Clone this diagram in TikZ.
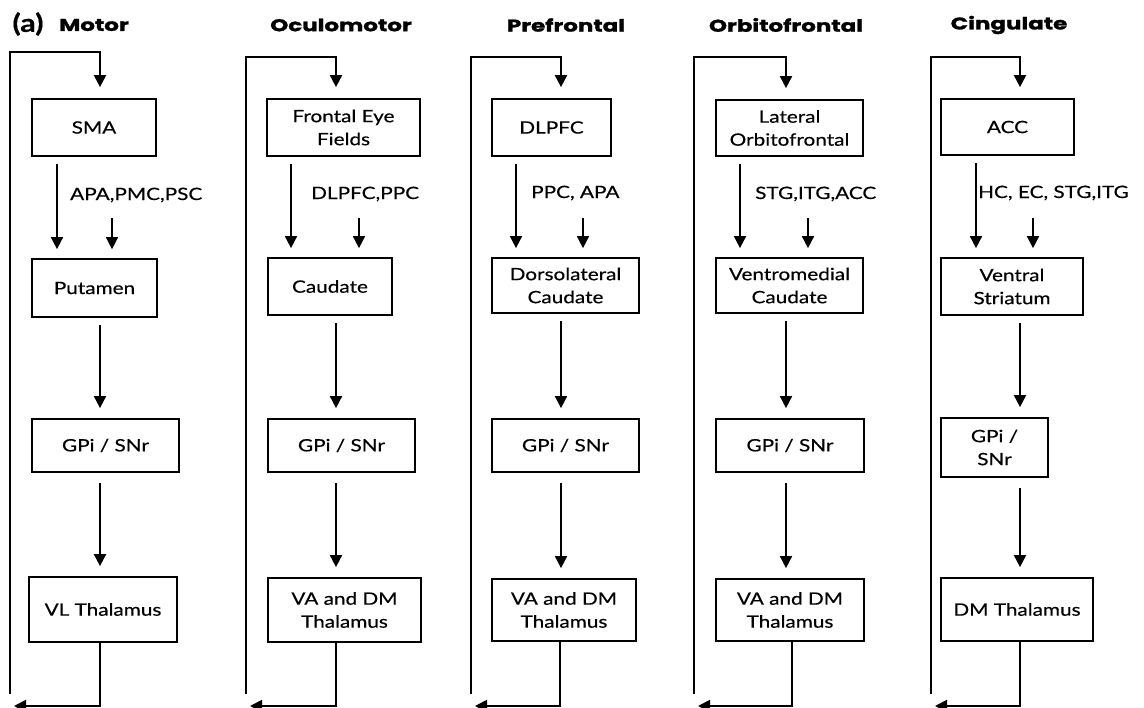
\documentclass[tikz,border=0pt]{standalone}
\usepackage{fontspec}
\setmainfont{Lato}[FakeStretch=1.22, FakeBold=0.4]
\newfontfamily\hdrfont{Poppins}[FakeStretch=1.35, BoldFeatures={FakeBold=1.5}]
\usetikzlibrary{arrows.meta}
\newcommand\bx[6]{\node[box, minimum width={(#4-#2)*1pt}, minimum height={(#5-#3)*1pt}] (#1) at ({(#2+#4)/2},{(#3+#5)/2}) {#6};}
\begin{document}
\begin{tikzpicture}[x=1pt,y=-1pt,
  box/.style={draw, line width=1.7pt, inner sep=0pt, align=center, font=\fontsize{17}{23}\selectfont},
  lbl/.style={anchor=west, inner sep=0pt, font=\fontsize{17}{20}\selectfont},
  hdr/.style={font=\hdrfont\bfseries\fontsize{17}{20}\selectfont, inner sep=0pt},
  tip/.style={-{Triangle[width=12pt,length=12pt]}},
  arr/.style={line width=1.7pt, tip},
  ln/.style={line width=1.9pt}]
\useasboundingbox (0,0) rectangle (1144,708);

% headers
\node[inner sep=0pt, font=\bfseries\fontsize{25}{27}\selectfont] (lab) at (28,24) {(a)};
\node[hdr] (h1) at (94,25) {Motor};
\node[hdr] (h2) at (341,25) {Oculomotor};
\node[hdr] (h3) at (566,25) {Prefrontal};
\node[hdr] (h4) at (786,25) {Orbitofrontal};
\node[hdr] (h5) at (1009,25) {Cingulate};

% column 1
\bx{A1}{32}{99}{156}{156}{SMA}
\bx{B1}{32}{259}{157}{317}{Putamen}
\bx{C1}{32}{419}{179}{472}{GPi / SNr}
\bx{D1}{29}{577}{177}{642}{VL Thalamus}
% column 2
\bx{A2}{267}{99}{420}{156}{Frontal Eye\\Fields}
\bx{B2}{268}{258}{392}{315}{Caudate}
\bx{C2}{268}{419}{415}{472}{GPi / SNr}
\bx{D2}{268}{578}{421}{642}{VA and DM\\Thalamus}
% column 3
\bx{A3}{492}{99}{611}{156}{DLPFC}
\bx{B3}{492}{258}{639}{313}{Dorsolateral\\Caudate}
\bx{C3}{492}{419}{639}{472}{GPi / SNr}
\bx{D3}{492}{579}{636}{641}{VA and DM\\Thalamus}
% column 4
\bx{A4}{716}{100}{863}{156}{Lateral\\Orbitofrontal}
\bx{B4}{716}{258}{863}{313}{Ventromedial\\Caudate}
\bx{C4}{716}{419}{864}{472}{GPi / SNr}
\bx{D4}{716}{579}{864}{641}{VA and DM\\Thalamus}
% column 5
\bx{A5}{941}{99}{1074}{155}{ACC}
\bx{B5}{941}{258}{1083}{315}{Ventral\\Striatum}
\bx{C5}{941}{418}{1048}{477}{GPi /\\SNr}
\bx{D5}{941}{578}{1093}{641}{DM Thalamus}

% labels
\node[lbl] (l1) at (70,195) {APA,PMC,PSC};
\node[lbl] (l2) at (311,194) {DLPFC,PPC};
\node[lbl] (l3) at (531,193) {PPC, APA};
\node[lbl] (l4) at (755,194) {STG,ITG,ACC};
\node[lbl] (l5) at (978,193) {HC, EC, STG,ITG};

% connectors
\foreach \n/\L/\T/\M/\IL/\IR/\E in {1/10/52/100/57/112/100, 2/246/57/336/291/359/336, 3/471/57/561/516/583/560, 4/694/57/786/740/808/792, 5/931/57/1020/976/1033/1020}{
  \coordinate (top\n) at (\M,\T);
  \coordinate (bl\n) at (\L,694);
  \coordinate (end\n) at ({\L+4},706);
  \coordinate (il\n) at (\IL,0);
  \coordinate (ir\n) at (\IR,218);
  \coordinate (mx\n) at (\M,0);
  \coordinate (ex\n) at (\E,0);
  \draw[ln, tip, shorten >=11pt] (bl\n) |- (top\n) -- (top\n |- A\n.north);
  \draw[arr, shorten <=7pt, shorten >=9pt] (A\n.south -| il\n) -- (B\n.north -| il\n);
  \draw[arr, shorten >=9pt] (ir\n) -- (B\n.north -| ir\n);
  \draw[arr, shorten <=7pt, shorten >=10pt] (B\n.south -| mx\n) -- (C\n.north -| mx\n);
  \draw[arr, shorten <=10pt, shorten >=10pt] (C\n.south -| mx\n) -- (D\n.north -| mx\n);
  \draw[ln, tip] (D\n.south -| ex\n) |- (end\n);
}
\end{tikzpicture}
\end{document}
